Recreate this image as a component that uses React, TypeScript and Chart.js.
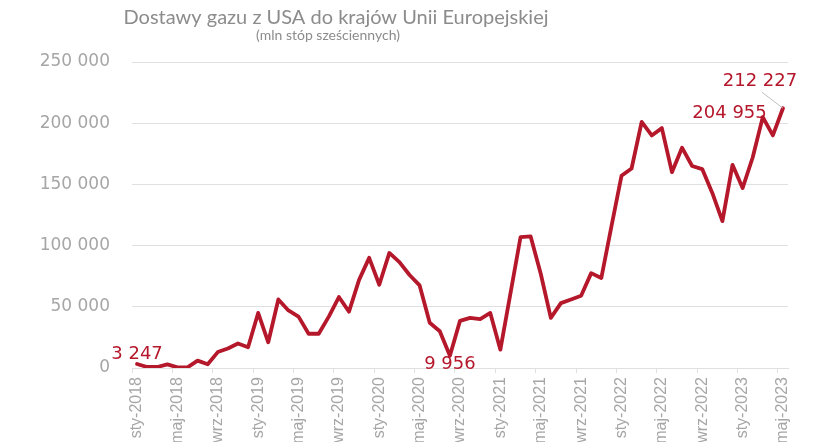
import React, { useEffect, useRef } from 'react';
import { Chart, registerables } from 'chart.js';

Chart.register(...registerables);

const MONTHS = ['sty', 'lut', 'mar', 'kwi', 'maj', 'cze', 'lip', 'sie', 'wrz', 'paź', 'lis', 'gru'];
const YEARS = [2018, 2019, 2020, 2021, 2022, 2023];
const categories: string[] = [];
YEARS.forEach((y) => MONTHS.forEach((m) => categories.push(`${m}-${y}`)));
categories.splice(65);

const supplies = [
  3247, 800, 800, 3000, 500, 500, 6000, 3000, 13000, 16000, 20000, 17000,
  45000, 21000, 56000, 47000, 42000, 28000, 28000, 42000, 58000, 46000, 72000, 90000,
  68000, 94000, 86500, 76000, 67500, 37000, 30000, 9956, 38500, 41000, 40000, 45000,
  15000, 61000, 107000, 107500, 77000, 41000, 53000, 56000, 59000, 77500, 73500, 115500,
  157000, 163000, 201000, 190000, 196000, 160000, 180000, 165000, 162500, 143000, 120000, 166000,
  147000, 172000, 204955, 190000, 212227,
];

const yMin = 0;
const yMax = 250000;
const yStep = 50000;

const TITLE = 'Dostawy gazu z USA do krajów Unii Europejskiej';
const SUBTITLE = '(mln stóp sześciennych)';

const labelledPoints = [
  { index: 0, mode: 'above' },
  { index: 31, mode: 'below' },
  { index: 62, mode: 'left' },
  { index: 64, mode: 'leader' },
];

const RED = '#B5172B';
const GRAY_TEXT = '#a6a6a6';
const GRID = '#e0e0e0';

const fmt = (v: number) => String(v).replace(/\B(?=(\d{3})+(?!\d))/g, ' ');

const titlePlugin = {
  id: 'customTitle',
  afterDraw(chart: any) {
    const ctx = chart.ctx;
    ctx.save();
    ctx.fillStyle = '#8c8c8c';
    ctx.textAlign = 'center';
    ctx.textBaseline = 'alphabetic';
    ctx.font = '20px Lato';
    ctx.fillText(TITLE, 336, 24);
    ctx.font = '14px Lato';
    ctx.fillText(SUBTITLE, 328, 40);
    ctx.restore();
  },
};

const labelPlugin = {
  id: 'pointLabels',
  afterDatasetsDraw(chart: any) {
    const meta = chart.getDatasetMeta(0);
    const ctx = chart.ctx;
    ctx.save();
    ctx.font = '18px "DejaVu Sans"';
    ctx.fillStyle = RED;
    ctx.textBaseline = 'middle';
    labelledPoints.forEach(({ index, mode }) => {
      const p = meta.data[index];
      if (!p) return;
      const text = fmt(supplies[index]);
      if (mode === 'above') {
        ctx.textAlign = 'center';
        ctx.fillText(text, p.x, p.y - 10);
      } else if (mode === 'below') {
        ctx.textAlign = 'center';
        ctx.fillText(text, p.x, p.y + 9);
      } else if (mode === 'left') {
        ctx.textAlign = 'right';
        ctx.fillText(text, p.x + 4, p.y - 4);
      } else {
        ctx.strokeStyle = '#bfbfbf';
        ctx.lineWidth = 1;
        ctx.beginPath();
        ctx.moveTo(p.x - 21, p.y - 16);
        ctx.lineTo(p.x, p.y);
        ctx.stroke();
        ctx.textAlign = 'center';
        ctx.fillText(text, p.x - 23, p.y - 27);
      }
    });
    ctx.restore();
  },
};

export default function App() {
  const ref = useRef<HTMLCanvasElement | null>(null);

  useEffect(() => {
    document.body.style.margin = '0';
    const canvas = ref.current;
    if (!canvas) return;
    const chart = new Chart(canvas, {
      type: 'line',
      data: {
        labels: categories,
        datasets: [
          {
            data: supplies,
            borderColor: RED,
            borderWidth: 3.8,
            pointRadius: 0,
            tension: 0,
            fill: false,
            borderJoinStyle: 'round',
            borderCapStyle: 'round',
          },
        ],
      },
      options: {
        responsive: false,
        animation: false,
        layout: { padding: { top: 62, right: 40, left: 0, bottom: 0 } },
        plugins: {
          legend: { display: false },
          title: { display: false },
          tooltip: { enabled: false },
        },
        scales: {
          x: {
            offset: true,
            grid: {
              offset: true,
              drawOnChartArea: false,
              drawTicks: true,
              tickLength: 5,
              tickColor: (c: any) => (c.index % 4 === 0 ? GRID : 'transparent'),
            },
            border: { color: GRID },
            ticks: {
              autoSkip: false,
              minRotation: 90,
              maxRotation: 90,
              padding: 4,
              color: GRAY_TEXT,
              font: { family: '"Liberation Sans Narrow", "Liberation Sans"', size: 16 },
              callback: (_v: any, i: number) => (i % 4 === 0 ? categories[i] : ''),
            },
            afterFit: (s: any) => {
              s.height = 74;
            },
          },
          y: {
            min: yMin,
            max: yMax,
            grid: { color: GRID, drawTicks: false, lineWidth: 1 },
            border: { display: false },
            ticks: {
              stepSize: yStep,
              padding: 22,
              color: GRAY_TEXT,
              font: { family: '"DejaVu Sans"', size: 17 },
              callback: (v: any) => fmt(Number(v)),
            },
            afterFit: (s: any) => {
              s.width = 132;
            },
          },
        },
      },
      plugins: [titlePlugin, labelPlugin],
    });
    return () => chart.destroy();
  }, []);

  return (
    <div style={{ width: 828, height: 442 }}>
      <canvas ref={ref} width={828} height={442} style={{ display: 'block' }} />
    </div>
  );
}
